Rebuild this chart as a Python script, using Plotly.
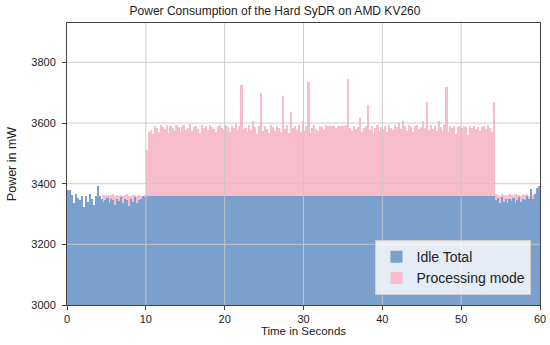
import plotly.graph_objects as go

# ---------------- data ----------------
SAMPLE_PERIOD_S = 0.25
N_SAMPLES = 240
time_s = [i * SAMPLE_PERIOD_S for i in range(N_SAMPLES)]

# Idle total, before processing starts (t = 0 .. 9.75 s)
idle_left_mw = [
    3380, 3378, 3362, 3335, 3365, 3352, 3345, 3358, 3322, 3360,
    3340, 3365, 3350, 3330, 3360, 3392, 3358, 3348, 3340, 3345,
    3352, 3338, 3350, 3345, 3330, 3348, 3342, 3355, 3335, 3350,
    3345, 3328, 3350, 3340, 3355, 3335, 3345, 3350, 3360, 3355,
]
# Idle level shown during processing (t = 10 .. 54 s)
idle_during_processing_mw = 3358
N_PROCESSING = 177
# Idle total after processing (t = 54.25 .. 59.75 s)
idle_right_mw = [
    3345, 3352, 3338, 3355, 3340, 3350, 3335, 3348, 3342, 3352,
    3338, 3345, 3355, 3340, 3350, 3345, 3360, 3348, 3382, 3350,
    3365, 3385, 3392,
]

# Processing-mode series
proc_missing_left = 18  # t = 0 .. 4.25 s not visible
proc_left_mw = [
    3362, 3360, 3364, 3358, 3362, 3365, 3360, 3362, 3358, 3364,
    3360, 3362, 3365, 3360, 3358, 3362, 3364, 3360, 3362, 3358,
    3360, 3362,
]
proc_active_mw = [
    3512, 3570, 3578, 3565, 3590, 3585, 3572, 3595, 3588, 3580,
    3592, 3568, 3590, 3583, 3575, 3595, 3587, 3570, 3590, 3592,
    3578, 3585, 3596, 3573, 3588, 3590, 3582, 3567, 3593, 3585,
    3590, 3576, 3594, 3588, 3580, 3572, 3590, 3595, 3585, 3578,
    3592, 3588, 3570, 3590, 3584, 3596, 3577, 3589, 3726, 3580,
    3585, 3570, 3592, 3578, 3608, 3588, 3565, 3590, 3698, 3575,
    3590, 3582, 3568, 3594, 3586, 3575, 3590, 3585, 3572, 3690,
    3580, 3592, 3566, 3638, 3585, 3590, 3578, 3593, 3570, 3608,
    3575, 3590, 3737, 3568, 3585, 3592, 3580, 3573, 3590, 3586,
    3578, 3593, 3590, 3590, 3590, 3590, 3584, 3590, 3591, 3590,
    3590, 3592, 3746, 3585, 3575, 3590, 3580, 3588, 3618, 3572,
    3585, 3590, 3660, 3578, 3590, 3568, 3585, 3592, 3575, 3588,
    3580, 3590, 3572, 3593, 3585, 3578, 3595, 3588, 3600, 3582,
    3608, 3590, 3575, 3592, 3586, 3570, 3590, 3595, 3580, 3588,
    3608, 3585, 3669, 3578, 3592, 3580, 3590, 3573, 3608, 3588,
    3575, 3592, 3718, 3570, 3590, 3585, 3590, 3565, 3588, 3590,
    3585, 3590, 3588, 3560, 3590, 3585, 3590, 3582, 3588, 3575,
    3588, 3590, 3580, 3592, 3585, 3572, 3669,
]
proc_right_mw = [
    3365, 3362, 3360, 3366, 3362, 3364, 3360, 3365, 3362, 3360,
    3366, 3362, 3364, 3360, 3365, 3362, 3366, 3360, 3364, 3362,
    3365, 3362, 3360,
]

idle_total = idle_left_mw + [idle_during_processing_mw] * N_PROCESSING + idle_right_mw
processing = [None] * proc_missing_left + proc_left_mw + proc_active_mw + proc_right_mw

x_ticks = [0, 10, 20, 30, 40, 50, 60]
y_ticks = [3000, 3200, 3400, 3600, 3800]
y_range = [3000, 3930]
x_range = [0, 60]

# ---------------- figure ----------------
FONT = "Liberation Sans, Arial, Helvetica, sans-serif"
BLUE = "#7ca0ce"
PINK = "#f8bdcc"
BAR_W = SAMPLE_PERIOD_S * 1.08  # slight overlap avoids anti-aliasing seams

fig = go.Figure()
fig.add_trace(go.Bar(
    x=time_s, y=processing, width=BAR_W, offset=0,
    base=0, name="Processing mode", marker=dict(color=PINK, line=dict(width=0)),
))
fig.add_trace(go.Bar(
    x=time_s, y=idle_total, width=BAR_W, offset=0,
    base=0, name="Idle Total", marker=dict(color=BLUE, line=dict(width=0)),
))

# grid lines drawn above the bars (as in the reference)
shapes = []
for xv in x_ticks[1:-1]:
    shapes.append(dict(type="line", xref="x", yref="paper", x0=xv, x1=xv, y0=0, y1=1,
                       line=dict(color="rgba(200,200,200,0.9)", width=1), layer="above"))
for yv in y_ticks[1:]:
    shapes.append(dict(type="line", xref="paper", yref="y", x0=0, x1=1, y0=yv, y1=yv,
                       line=dict(color="rgba(200,200,200,0.9)", width=1), layer="above"))

fig.update_layout(
    width=550, height=345,
    margin=dict(l=67, r=10, t=23, b=40, autoexpand=False),
    paper_bgcolor="white", plot_bgcolor="white",
    barmode="overlay", bargap=0,
    font=dict(family=FONT, color="#222", size=11),
    title=dict(text="Power Consumption of the Hard SyDR on AMD KV260",
               x=0.5, xanchor="center", y=0.97, yanchor="middle",
               font=dict(size=12, family=FONT, color="#222")),
    shapes=shapes,
    showlegend=True,
    legend=dict(
        x=0.982, y=0.035, xanchor="right", yanchor="bottom",
        bgcolor="rgba(255,255,255,0.8)", bordercolor="#d0d0d0", borderwidth=1,
        font=dict(size=14, family=FONT, color="#222"),
        traceorder="reversed", itemwidth=30, tracegroupgap=0,
    ),
    xaxis=dict(
        range=x_range, tickvals=x_ticks, showgrid=False, zeroline=False,
        showline=True, mirror=True, linecolor="#444", linewidth=1,
        ticks="outside", ticklen=4, tickcolor="#444", automargin=False,
        tickfont=dict(size=11, family=FONT, color="#222"),
        title=dict(text="Time in Seconds", font=dict(size=11.5, family=FONT, color="#222"), standoff=2),
    ),
    yaxis=dict(
        range=y_range, tickvals=y_ticks, showgrid=False, zeroline=False,
        showline=True, mirror=True, linecolor="#444", linewidth=1,
        ticks="outside", ticklen=4, tickcolor="#444", automargin=False,
        ticklabelstandoff=4,
        tickfont=dict(size=11, family=FONT, color="#222"),
        title=dict(text="Power in mW", font=dict(size=12.5, family=FONT, color="#222"), standoff=11),
    ),
)

fig.write_html(
    "out.html",
    config={"displayModeBar": False},
    post_script="document.body.style.margin='0';document.body.style.overflow='hidden';",
)
